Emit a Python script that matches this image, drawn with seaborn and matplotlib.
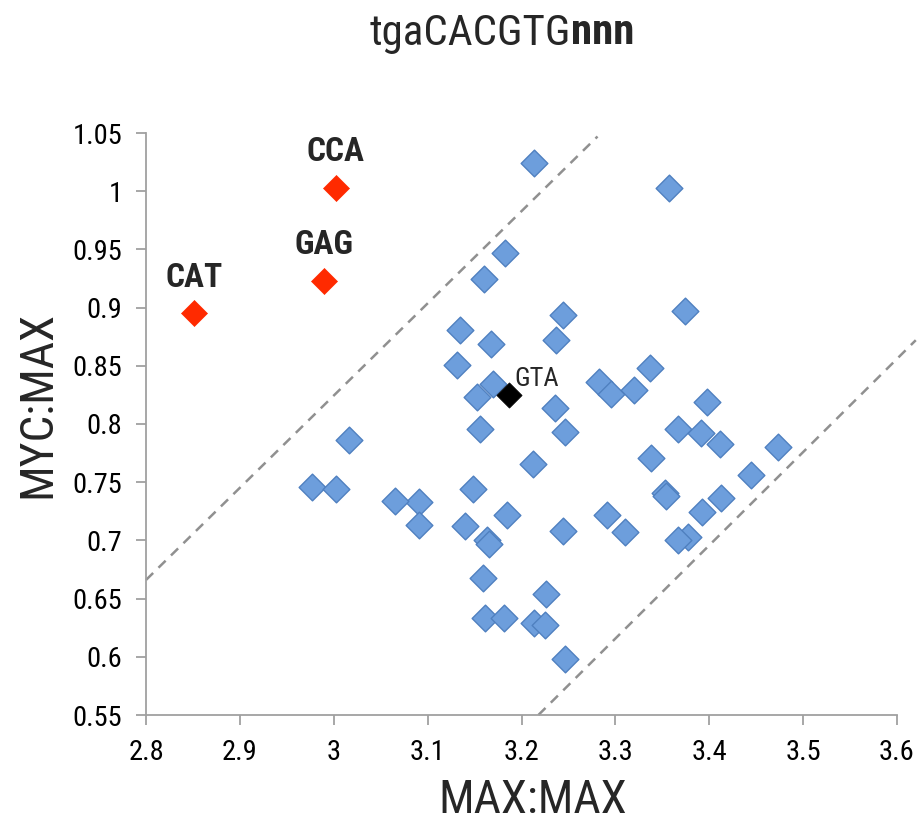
import matplotlib
matplotlib.use("Agg")
import matplotlib.pyplot as plt
from matplotlib import font_manager
import seaborn as sns
import pandas as pd

# MAX:MAX vs MYC:MAX binding ratios for tgaCACGTGnnn flanks
other_x = [3.213, 3.357, 3.182, 3.160, 3.244, 3.374, 3.134, 3.167, 3.237, 3.131,
           3.170, 3.153, 3.236, 3.283, 3.295, 3.320, 3.337, 3.398, 3.156, 3.246,
           3.212, 3.148, 3.091, 3.091, 3.140, 3.185, 3.163, 3.165, 3.244, 3.159,
           3.226, 3.161, 3.181, 3.213, 3.225, 3.246, 3.367, 3.391, 3.411, 3.338,
           3.473, 3.444, 3.353, 3.354, 3.413, 3.392, 3.291, 3.310, 3.377, 3.367,
           3.016, 2.977, 3.002, 3.065]
other_y = [1.024, 1.003, 0.947, 0.925, 0.894, 0.897, 0.881, 0.869, 0.872, 0.851,
           0.834, 0.823, 0.814, 0.836, 0.826, 0.829, 0.848, 0.819, 0.796, 0.793,
           0.766, 0.744, 0.733, 0.713, 0.712, 0.722, 0.700, 0.697, 0.708, 0.668,
           0.654, 0.633, 0.633, 0.629, 0.627, 0.598, 0.796, 0.792, 0.783, 0.771,
           0.780, 0.756, 0.741, 0.738, 0.736, 0.724, 0.722, 0.707, 0.703, 0.700,
           0.786, 0.746, 0.744, 0.734]

highlight_labels = ["CCA", "GAG", "CAT"]
highlight_x = [3.002, 2.990, 2.851]
highlight_y = [1.003, 0.923, 0.895]

ref_label = "GTA"
ref_x = [3.187]
ref_y = [0.825]

# dashed guide lines (x endpoints, y endpoints)
upper_guide_x = [2.800, 3.281]
upper_guide_y = [0.666, 1.047]
lower_guide_x = [3.218, 3.620]
lower_guide_y = [0.550, 0.872]

x_ticks = [2.8, 2.9, 3.0, 3.1, 3.2, 3.3, 3.4, 3.5, 3.6]
x_tick_labels = ["2.8", "2.9", "3", "3.1", "3.2", "3.3", "3.4", "3.5", "3.6"]
y_ticks = [0.55, 0.6, 0.65, 0.7, 0.75, 0.8, 0.85, 0.9, 0.95, 1.0, 1.05]
y_tick_labels = ["0.55", "0.6", "0.65", "0.7", "0.75", "0.8", "0.85", "0.9", "0.95", "1", "1.05"]

sns.set_style("white")

# pick a narrow sans face with a bold weight available
available = {f.name for f in font_manager.fontManager.ttflist}
narrow = next((n for n in ["Liberation Sans Narrow", "Roboto Condensed", "Fira Sans Condensed",
                           "Encode Sans Condensed", "DejaVu Sans"] if n in available), "DejaVu Sans")
plt.rcParams["font.family"] = [narrow, "DejaVu Sans"]
if narrow == "DejaVu Sans":
    plt.rcParams["font.stretch"] = "condensed"

fig = plt.figure(figsize=(9.19, 8.24), dpi=100)
ax = fig.add_axes([146 / 919, 1 - 715 / 824, (897 - 146) / 919, (715 - 133) / 824])

ax.plot(upper_guide_x, upper_guide_y, ls=(0, (4, 3)), color="#909090", lw=1.8, clip_on=False, zorder=1)
ax.plot(lower_guide_x, lower_guide_y, ls=(0, (4, 3)), color="#909090", lw=1.8, clip_on=False, zorder=1)

others = pd.DataFrame({"x": other_x, "y": other_y})
hl = pd.DataFrame({"x": highlight_x, "y": highlight_y, "label": highlight_labels})
ref = pd.DataFrame({"x": ref_x, "y": ref_y})

sns.scatterplot(data=others, x="x", y="y", marker="D", s=185, color="#6d9edc",
                edgecolor="#4f80c0", linewidth=1.0, ax=ax, zorder=3)
sns.scatterplot(data=hl, x="x", y="y", marker="D", s=175, color="#ff2a00",
                edgecolor="#ff2a00", linewidth=0.5, ax=ax, zorder=4)
sns.scatterplot(data=ref, x="x", y="y", marker="D", s=165, color="black",
                edgecolor="black", linewidth=0.5, ax=ax, zorder=4)

for lab, xv, yv in zip(highlight_labels, highlight_x, highlight_y):
    ax.annotate(lab, (xv, yv), xytext=(0, 14), textcoords="offset points",
                ha="center", va="bottom", fontsize=24, fontweight="bold")
ax.annotate(ref_label, (ref_x[0], ref_y[0]), xytext=(4, 3), textcoords="offset points",
            ha="left", va="bottom", fontsize=19)

ax.set_xlim(2.8, 3.6)
ax.set_ylim(0.55, 1.05)
ax.set_xticks(x_ticks)
ax.set_xticklabels(x_tick_labels)
ax.set_yticks(y_ticks)
ax.set_yticklabels(y_tick_labels)
ax.tick_params(axis="both", labelsize=20.5, colors="#a0a0a0", labelcolor="black",
               direction="out", length=7, width=1.3, bottom=True, left=True)
ax.tick_params(axis="x", pad=10)
ax.tick_params(axis="y", pad=10)
for side in ["top", "right"]:
    ax.spines[side].set_visible(False)
for side in ["left", "bottom"]:
    ax.spines[side].set_color("#a0a0a0")
    ax.spines[side].set_linewidth(1.3)

ax.set_xlabel("MAX:MAX", fontsize=34)
ax.set_ylabel("MYC:MAX", fontsize=34)
ax.xaxis.set_label_coords((533 - 146) / 751, -(800 - 715) / 582, transform=ax.transAxes)
ax.yaxis.set_label_coords(-(146 - 37) / 751, (715 - 404) / 582, transform=ax.transAxes)
ax.xaxis.label.set_va("center")
ax.yaxis.label.set_va("center")

fig.text(571 / 919, 1 - 33 / 824, "tgaCACGTG", ha="right", va="center", fontsize=31)
fig.text(571 / 919, 1 - 33 / 824, "nnn", ha="left", va="center", fontsize=31, fontweight="bold")

fig.savefig("out.png", dpi=100)
